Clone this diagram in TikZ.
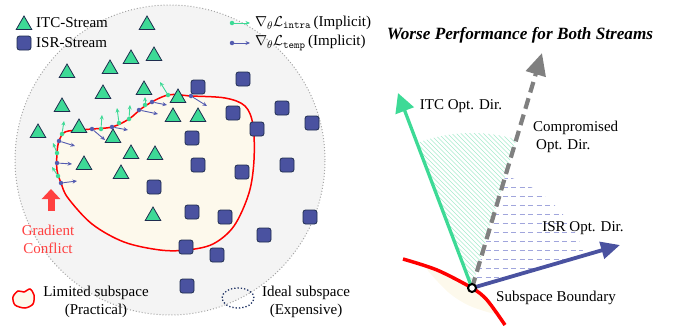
\documentclass[tikz,border=0pt]{standalone}
\usepackage{fontspec}
\setmainfont{Liberation Serif}
\usetikzlibrary{arrows.meta, shapes.geometric, calc}

\definecolor{itcgreen}{RGB}{61,218,150}
\definecolor{isrblue}{RGB}{74,82,160}
\definecolor{gradblue}{RGB}{84,92,176}
\definecolor{nodeedge}{RGB}{30,44,78}
\definecolor{cream}{RGB}{253,249,236}
\definecolor{spacegray}{RGB}{244,244,244}
\definecolor{dotgray}{RGB}{165,165,165}
\definecolor{conflictred}{RGB}{255,64,64}
\definecolor{idealnavy}{RGB}{30,50,100}
\definecolor{hatchgreen}{RGB}{165,234,204}
\definecolor{hatchblue}{RGB}{160,165,220}

\begin{document}
\begin{tikzpicture}[x=1pt, y=-1pt, >={Stealth[length=4.5pt,width=4pt]},
    font=\fontsize{15}{18}\selectfont,
    itc/.style={regular polygon, regular polygon sides=3, minimum size=18pt, inner sep=0pt,
      yshift=-2pt, fill=itcgreen, draw=nodeedge, line width=0.8pt},
    isr/.style={rectangle, rounded corners=2.5pt, minimum size=14pt, inner sep=0pt,
      fill=isrblue, draw=nodeedge, line width=0.8pt},
    gdot/.style={circle, fill=itcgreen, inner sep=0pt, minimum size=4.5pt},
    bdot/.style={circle, fill=gradblue, inner sep=0pt, minimum size=4.5pt},
    garrow/.style={->, itcgreen, line width=0.9pt},
    barrow/.style={->, gradblue, line width=0.9pt},
    boundary/.style={red, line width=1.5pt, fill=cream},
    label/.style={inner sep=1pt}]

    \useasboundingbox (0,0) rectangle (683,332);

    % Whole parameter space
    \filldraw[fill=spacegray, draw=dotgray, dotted, line width=1pt] (170,160) circle (155pt);

    % Limited subspace
    \draw[boundary] plot[smooth cycle, tension=0.55] coordinates {
      (61,183) (57,170) (57,153) (59,141) (65,132) (80,130) (92,129) (112,127)
      (129,119) (145,106) (168,95) (191,96) (225,98) (245,106) (253,125) (254,160)
      (249,193) (234,226) (213,244) (187,250) (160,250) (124,242) (92,224) (68,198)};

    % ITC samples
    \foreach \x/\y [count=\i] in {147/23, 131/57, 154/54, 67/71, 110/67, 103/92, 144/88,
        62/105, 178/96, 173/115, 198/115, 38/131, 79/126, 113/136, 131/152, 155/153,
        84/163, 121/172, 153/214}
      \node[itc] (itc\i) at (\x,\y) {};

    % ISR samples
    \foreach \x/\y [count=\i] in {198/87, 243/79, 233/113, 282/108, 257/129, 312/123,
        192/138, 198/165, 287/165, 242/172, 154/187, 192/212, 225/217, 310/217,
        264/235, 186/247, 217/255, 187/286}
      \node[isr] (isr\i) at (\x,\y) {};

    % Implicit gradients along the boundary
    \foreach \x/\y/\u/\v [count=\i] in {62/134/64/121, 57/153/53/143, 58/176/52/167,
        101/129/102/115, 119/123/117/108, 129/119/130/105, 145/105/145/97, 168/95/160/82} {
      \node[gdot] (gi\i) at (\x,\y) {};
      \coordinate (gt\i) at (\u,\v);
      \draw[garrow] (gi\i) -- (gt\i);
    }
    \foreach \x/\y/\u/\v [count=\i] in {59/141/75/146, 57/163/72/164, 61/183/77/181,
        92/129/105/140, 112/127/128/130, 139/110/158/114, 152/102/167/105, 191/96/207/106} {
      \node[bdot] (bi\i) at (\x,\y) {};
      \coordinate (bt\i) at (\u,\v);
      \draw[barrow] (bi\i) -- (bt\i);
    }

    % Legend (top)
    \node[itc] (legitc) at (24,23) {};
    \node[label, anchor=west] (legitctxt) at (35,23) {ITC-Stream};
    \node[isr] (legisr) at (24,43) {};
    \node[label, anchor=west] (legisrtxt) at (35,43) {ISR-Stream};

    \node[gdot] (leggi) at (232,23) {};
    \coordinate (leggt) at (250,23);
    \draw[garrow] (leggi) -- (leggt);
    \node[label, anchor=west] (legintra) at (254,23) {$\nabla_\theta\mathcal{L}_{\mathtt{intra}}$\,(Implicit)};
    \node[bdot] (legbi) at (232,43) {};
    \coordinate (legbt) at (250,43);
    \draw[barrow] (legbi) -- (legbt);
    \node[label, anchor=west] (legtemp) at (254,43) {$\nabla_\theta\mathcal{L}_{\mathtt{temp}}$\,(Implicit)};

    % Gradient conflict marker
    \coordinate (gcfoot) at (51,211);
    \coordinate (gctip) at (51,189);
    \draw[conflictred, line width=7pt, -{Triangle[length=10pt,width=18pt]}] (gcfoot) -- (gctip);
    \node[label, conflictred, align=center] (gc) at (48,239.5) {Gradient\\Conflict};

    % Legend (bottom)
    \draw[boundary] plot[smooth cycle] coordinates {
      (13,297) (18,291) (24,292) (30,289) (34,295) (33,304) (25,308) (15,305)};
    \node[label, align=center] (limited) at (96,301.5) {Limited subspace\\(Practical)};
    \node[ellipse, draw=idealnavy, dotted, line width=1.3pt, minimum width=32pt,
      minimum height=20pt, inner sep=0pt] (ideal) at (238,298) {};
    \node[label, align=center] (idealtxt) at (306,301.5) {Ideal subspace\\(Expensive)};

    % Directions at the subspace boundary
    \node[font=\fontsize{17.2}{20}\selectfont\bfseries\itshape] (title) at (520,35)
      {Worse Performance for Both Streams};

    \coordinate (o) at (472,288);
    \coordinate (itcdir) at (398,93);
    \coordinate (compdir) at (542,53);
    \coordinate (isrdir) at (620,245);

    % green hatching between ITC and compromised directions
    \begin{scope}
      \clip (o) -- plot[domain=73.4:110.8, samples=30] ({472+155*cos(\x)},{288-155*sin(\x)}) -- cycle;
      \foreach \k in {180,184.5,...,500}
        \draw[hatchgreen, line width=0.7pt] (\k,100) -- ++(220,220);
    \end{scope}

    % blue dashes between compromised and ISR directions
    \begin{scope}
      \clip (o) -- plot[domain=16.2:73.4, samples=30] ({472+117*cos(\x)},{288-117*sin(\x)}) -- cycle;
      \foreach \h in {178,187,...,286}
        \draw[hatchblue, line width=0.8pt, dash pattern=on 5pt off 3.5pt] (460,\h) -- (600,\h);
    \end{scope}

    % boundary piece
    \fill[cream] plot[smooth cycle] coordinates {
      (425,266) (450,276) (472,288) (490,303) (497,314) (470,306) (448,292)};
    \draw[red, line width=3.5pt] plot[smooth] coordinates {
      (403,259) (437,270) (472,288) (487,300) (505,325)};

    \draw[itcgreen, line width=3.3pt, -{Triangle[length=19pt,width=19pt]}] (o) -- (itcdir);
    \draw[gray, line width=4.2pt, dash pattern=on 11pt off 6pt,
      -{Triangle[length=22pt,width=20pt]}] (o) -- (compdir);
    \draw[isrblue, line width=3.8pt, -{Triangle[length=19pt,width=17pt]}] (o) -- (isrdir);

    \node[circle, draw=black, fill=white, line width=2pt, minimum size=8pt, inner sep=0pt] (onode) at (o) {};

    \node[label] (itclbl) at (461,106) {ITC Opt. Dir.};
    \node[label, align=left, anchor=west] (complbl) at (532,137) {Compromised\\\hspace*{3pt}Opt. Dir.};
    \node[label] (isrlbl) at (583,228) {ISR Opt. Dir.};
    \node[label] (bndlbl) at (556,298) {Subspace Boundary};

\end{tikzpicture}
\end{document}
